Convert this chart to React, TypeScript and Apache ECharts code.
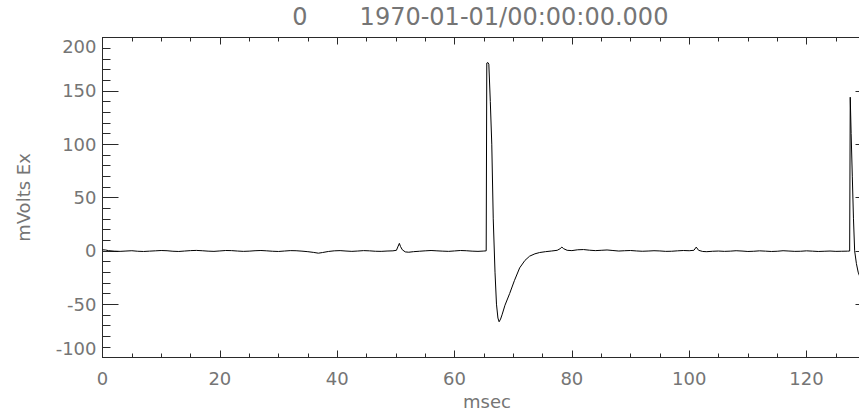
import React, { useEffect, useRef } from "react";
import * as echarts from "echarts";

// Time (msec) / Ex (mVolts) samples
const baselineA: [number, number][] = [
  [0, 1.0], [0.5, 0.8], [1, 0.2], [2, -0.3], [3, -0.5], [4, -0.2], [5, 0.1], [6, -0.4],
  [7, -0.6], [8, -0.3], [9, 0.0], [10, 0.3], [11, 0.1], [12, -0.4], [13, -0.6], [14, -0.2],
  [15, 0.2], [16, 0.4], [17, 0.1], [18, -0.3], [19, -0.5], [20, -0.1], [21, 0.3], [22, 0.2],
  [23, -0.2], [24, -0.5], [25, -0.3], [26, 0.1], [27, 0.3], [28, 0.0], [29, -0.4], [30, -0.6],
  [31, -0.2], [32, 0.2], [33, 0.1], [34, -0.3], [35, -0.8], [36, -1.5], [36.8, -2.2], [37.5, -1.6],
  [38.5, -0.6], [39.5, 0.0], [40.5, 0.2], [41.5, -0.2], [42.5, -0.5], [43.5, -0.2], [44.5, 0.2],
  [45.5, 0.0], [46.5, -0.4], [47.5, -0.5], [48.5, -0.2], [49.5, 0.0], [50.1, 0.5], [50.4, 4.5],
  [50.6, 7.0], [50.8, 4.0], [51.1, 1.0], [51.6, -1.0], [52.2, -1.3], [53, -0.8], [54, -0.4],
  [55, 0.0], [56, 0.3], [57, 0.0], [58, -0.3], [59, -0.5], [60, -0.1], [61, 0.3], [62, 0.1],
  [63, -0.3], [64, -0.5], [65, -0.2], [65.4, 0.0],
];

const spikeA: [number, number][] = [
  [65.5, 176.0], [65.7, 176.5], [65.85, 175.0], [66.1, 140], [66.35, 100], [66.6, 30],
  [66.9, -20], [67.15, -50], [67.4, -63], [67.6, -66.5], [67.85, -64], [68.1, -60],
];

const recovery: [number, number][] = [
  [68.6, -51], [69.4, -40], [70.2, -28], [71.1, -16], [72, -9], [72.8, -5], [73.7, -2.8],
  [74.5, -1.6], [75.5, -0.8], [76.5, -0.2], [77.5, 0.5], [78.0, 2.0], [78.3, 3.5], [78.6, 2.0],
  [79.2, 0.5], [80, 0.2],
];

const baselineB: [number, number][] = [
  [81, 1.0], [82, 1.2], [83, 0.6], [84, 0.2], [85, 0.5], [86, 0.8], [87, 0.3], [88, -0.2],
  [89, 0.1], [90, 0.3], [91, -0.1], [92, -0.4], [93, -0.2], [94, 0.1], [95, -0.1], [96, -0.5],
  [97, -0.4], [98, 0.0], [99, 0.3], [100, 0.1], [100.8, 0.5], [101.2, 3.5], [101.6, 0.5],
  [102.3, -0.6], [103, -0.8], [104, -0.4], [105, -0.2], [106, -0.5], [107, -0.3], [108, 0.1],
  [109, -0.2], [110, -0.6], [111, -0.4], [112, 0.0], [113, -0.3], [114, -0.6], [115, -0.4],
  [116, 0.1], [117, -0.2], [118, -0.5], [119, -0.4], [120, 0.0], [121, -0.3], [122, -0.6],
  [123, -0.4], [124, -0.2], [125, -0.5], [126, -0.4], [127, -0.3], [127.35, -0.2],
];

const spikeB: [number, number][] = [
  [127.45, 144], [127.6, 110], [127.8, 70], [128.0, 30], [128.2, 0], [128.5, -12],
  [128.8, -20], [129.2, -26], [129.6, -28],
];

const X_MIN = 0;
const X_MAX = 131.072;
const Y_MIN = -100;
const Y_MAX = 200;

const TITLE_INDEX = "0";
const TITLE_TIME = "1970-01-01/00:00:00.000";
const X_NAME = "msec";
const Y_NAME = "mVolts Ex";

const FONT = "DejaVu Sans";
const TEXT_COLOR = "#757575";
const AXIS_COLOR = "#2a2a2a";

export default function App() {
  const ref = useRef<HTMLDivElement>(null);

  useEffect(() => {
    if (!ref.current) return;
    const chart = echarts.init(ref.current, null, { renderer: "svg" });
    const series = [...baselineA, ...spikeA, ...recovery, ...baselineB, ...spikeB];

    const axisLine = { show: true, onZero: false, lineStyle: { color: AXIS_COLOR, width: 1 } };
    const noLine = { show: false, onZero: false };

    chart.setOption({
      animation: false,
      backgroundColor: "#ffffff",
      grid: {
        left: 102.5,
        top: 37.5,
        right: -12.5,
        bottom: 56.5,
        containLabel: false,
        outerBoundsMode: "none",
      },
      graphic: [
        {
          type: "text",
          x: 300,
          y: 17,
          style: {
            text: TITLE_INDEX,
            fontFamily: FONT,
            fontSize: 24,
            fill: TEXT_COLOR,
            textAlign: "center",
            textVerticalAlign: "middle",
          },
        },
        {
          type: "text",
          x: 514,
          y: 17,
          style: {
            text: TITLE_TIME,
            fontFamily: FONT,
            fontSize: 24,
            fill: TEXT_COLOR,
            textAlign: "center",
            textVerticalAlign: "middle",
          },
        },
      ],
      xAxis: [
        {
          type: "value",
          position: "bottom",
          min: X_MIN,
          max: X_MAX,
          interval: 5,
          axisLine,
          axisTick: { show: true, inside: true, length: 4, lineStyle: { color: AXIS_COLOR } },
          axisLabel: {
            show: true,
            margin: 12,
            fontFamily: FONT,
            fontSize: 18,
            color: TEXT_COLOR,
            formatter: (v: number) => (Math.abs(v % 20) < 1e-9 ? String(v) : ""),
          },
          splitLine: { show: false },
          name: X_NAME,
          nameLocation: "middle",
          nameGap: 34,
          nameTextStyle: { fontFamily: FONT, fontSize: 18, color: TEXT_COLOR },
        },
        {
          type: "value",
          position: "bottom",
          offset: 0,
          min: X_MIN,
          max: X_MAX,
          interval: 20,
          axisLine: noLine,
          axisTick: { show: true, inside: true, length: 7, lineStyle: { color: AXIS_COLOR } },
          axisLabel: { show: false },
          splitLine: { show: false },
        },
        {
          type: "value",
          position: "top",
          min: X_MIN,
          max: X_MAX,
          interval: 5,
          axisLine,
          axisTick: { show: true, inside: true, length: 4, lineStyle: { color: AXIS_COLOR } },
          axisLabel: { show: false },
          splitLine: { show: false },
        },
        {
          type: "value",
          position: "top",
          offset: 0,
          min: X_MIN,
          max: X_MAX,
          interval: 20,
          axisLine: noLine,
          axisTick: { show: true, inside: true, length: 7, lineStyle: { color: AXIS_COLOR } },
          axisLabel: { show: false },
          splitLine: { show: false },
        },
      ],
      yAxis: [
        {
          type: "value",
          position: "left",
          min: Y_MIN,
          max: Y_MAX,
          interval: 50,
          axisLine,
          axisTick: { show: true, inside: true, length: 16, lineStyle: { color: AXIS_COLOR } },
          minorTick: { show: true, splitNumber: 5, length: 8, lineStyle: { color: AXIS_COLOR } },
          axisLabel: {
            show: true,
            margin: 6,
            fontFamily: FONT,
            fontSize: 18,
            color: TEXT_COLOR,
            verticalAlignMinLabel: "bottom",
            verticalAlignMaxLabel: "top",
          },
          splitLine: { show: false },
          minorSplitLine: { show: false },
          name: Y_NAME,
          nameLocation: "middle",
          nameGap: 70,
          nameTextStyle: { fontFamily: FONT, fontSize: 18, color: TEXT_COLOR },
        },
        {
          type: "value",
          position: "right",
          min: Y_MIN,
          max: Y_MAX,
          interval: 50,
          axisLine,
          axisTick: { show: true, inside: true, length: 16, lineStyle: { color: AXIS_COLOR } },
          minorTick: { show: true, splitNumber: 5, length: 8, lineStyle: { color: AXIS_COLOR } },
          axisLabel: { show: false },
          splitLine: { show: false },
          minorSplitLine: { show: false },
        },
      ],
      series: [
        {
          type: "line",
          xAxisIndex: 0,
          yAxisIndex: 0,
          data: series,
          showSymbol: false,
          symbol: "none",
          clip: true,
          lineStyle: { color: "#000000", width: 1 },
          itemStyle: { color: "#000000" },
        },
      ],
    });

    return () => chart.dispose();
  }, []);

  return (
    <div
      ref={ref}
      style={{ position: "fixed", left: 0, top: 0, width: 859, height: 414, background: "#fff" }}
    />
  );
}
